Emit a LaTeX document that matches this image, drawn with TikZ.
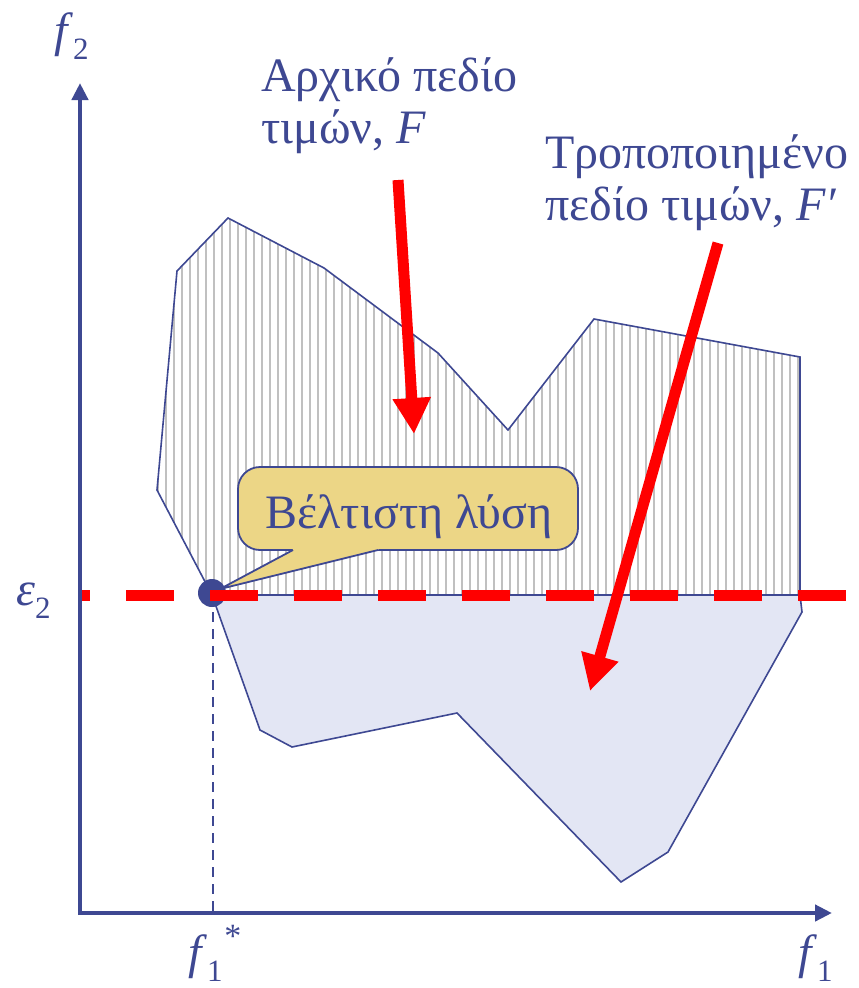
\documentclass[tikz,border=0pt]{standalone}
\usepackage{fontspec}
\setmainfont{Liberation Serif}
\usetikzlibrary{arrows.meta}
\definecolor{navy}{RGB}{62,72,146}
\definecolor{lowfill}{RGB}{227,230,244}
\definecolor{callfill}{RGB}{236,214,134}
\definecolor{hatchgray}{RGB}{192,192,192}
\definecolor{redline}{RGB}{255,0,0}
\newcommand\lowidx[1]{\raisebox{-0.28em}{\fontsize{31}{31}\selectfont #1}}
\newcommand\upidx[1]{\raisebox{0.42em}{\fontsize{34}{34}\selectfont #1}}
\begin{document}
\begin{tikzpicture}[x=1pt,y=-1pt,
  lbl/.style={text=navy,font=\fontsize{48}{52}\selectfont,inner sep=0pt},
  region/.style={draw=navy,line width=1.6pt,line join=miter},
  axisline/.style={draw=navy,line width=4.5pt,-{Triangle[width=16pt,length=17pt]}},
  bigarrow/.style={draw=redline,line width=11pt,-{Triangle[width=36pt,length=36pt]}},
  eline/.style={draw=redline,line width=11pt,dash pattern=on 48pt off 36pt,dash phase=40pt},
  guide/.style={draw=navy,line width=1.6pt,dash pattern=on 10pt off 7pt},
  bubble/.style={draw=navy,line width=1.8pt,fill=callfill,rounded corners=22pt}]
\useasboundingbox (0,0) rectangle (859,988);
% lower region F'
\fill[lowfill] (212,595) -- (260,730) -- (292,747) -- (457,713) -- (621,882) -- (668,852) -- (802,612) -- (800,595) -- cycle;
% upper hatched region
\begin{scope}
  \clip (212,595) -- (157,490) -- (177,271) -- (228,218) -- (324,268) -- (438,353) -- (508,430) -- (594,319) -- (800,357) -- (800,595) -- cycle;
  \fill[white] (140,200) rectangle (810,600);
  \foreach \x in {150,158,...,806} \draw[hatchgray,line width=2.6pt] (\x,200) -- (\x,600);
\end{scope}
\draw[region] (212,595) -- (157,490) -- (177,271) -- (228,218) -- (324,268) -- (438,353) -- (508,430) -- (594,319) -- (800,357) -- (800,595) -- (212,595);
\draw[region] (212,595) -- (260,730) -- (292,747) -- (457,713) -- (621,882) -- (668,852) -- (802,612) -- (800,595);
% axes
\coordinate (O) at (80,913);
\coordinate (ytip) at (80,83);
\coordinate (xtip) at (832,913);
\draw[axisline] (80,915) -- (ytip);
\draw[axisline] (78,913) -- (xtip);
% guide line to f1*
\coordinate (gtop) at (213,612);
\coordinate (gbot) at (213,911);
\draw[guide] (gtop) -- (gbot);
% optimum point
\node[circle,fill=navy,minimum size=28pt,inner sep=0pt] (opt) at (212,593) {};
% callout
\node[bubble,minimum width=340pt,minimum height=83pt,inner sep=0pt] (call) at (408,508.5) {};
\fill[callfill] (290,544) -- (293,550) -- (220,589) -- (378,550) -- (381,544) -- cycle;
\draw[navy,line width=1.8pt,line join=miter] (293,550) -- (220,589) -- (378,550);
\node[lbl,anchor=base] (calltext) at (409,528) {Βέλτιστη λύση};
% epsilon line
\coordinate (eL) at (82,595);
\coordinate (eR) at (848,595);
\draw[eline] (eL) -- (eR);
% red arrows
\coordinate (a1s) at (398,180);
\coordinate (a1e) at (414,434);
\draw[bigarrow] (a1s) -- (a1e);
\coordinate (a2s) at (718,243);
\coordinate (a2e) at (590,691);
\draw[bigarrow] (a2s) -- (a2e);
% labels
\node[lbl,anchor=base west,align=left] (Flbl) at (261,143) {Αρχικό πεδίο\\τιμών, \textit{F}};
\node[lbl,anchor=base west,align=left] (Fplbl) at (545,220) {Τροποποιημένο\\πεδίο τιμών, \textit{F′}};
\node[lbl,anchor=base west] (f2lbl) at (54,46) {\textit{f}\lowidx{2}};
\node[lbl,anchor=base west] (f1lbl) at (798,968) {\textit{f}\lowidx{1}};
\node[lbl,anchor=base west] (fslbl) at (188,968) {\textit{f}\lowidx{1}\hspace{0.04em}\upidx{*}};
\node[lbl,anchor=base west] (eps) at (16,605) {\textit{ε}\lowidx{2}};
\end{tikzpicture}
\end{document}
